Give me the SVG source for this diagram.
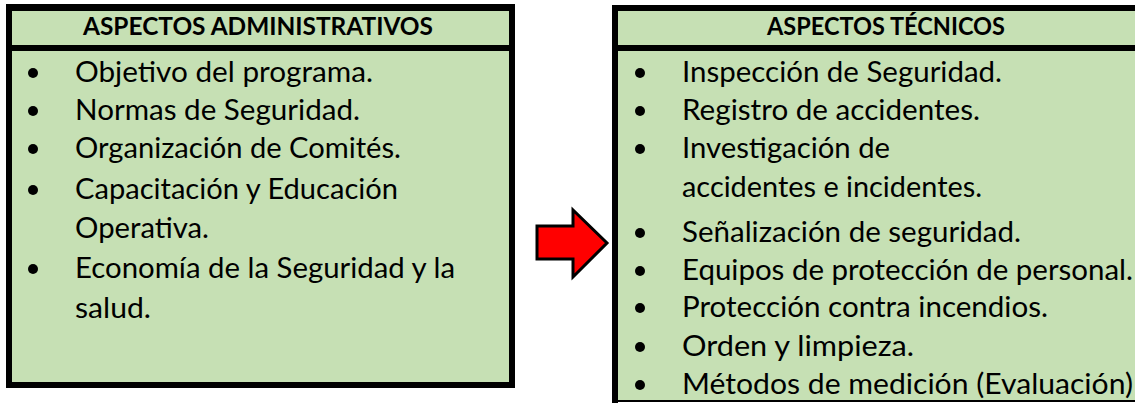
<svg xmlns="http://www.w3.org/2000/svg" width="1135" height="403" viewBox="0 0 1135 403">
<style>
.fill{fill:#c6e0b4}
.blk{fill:#000}
.h{font-family:Lato,"Open Sans",sans-serif;font-weight:bold;font-size:25px;fill:#000}
.t{font-family:Lato,"Open Sans",sans-serif;font-size:28.5px;fill:#000}
.b{fill:#000}
</style>
<rect width="1135" height="403" fill="#fff"/>
<g id="admin">
<rect x="6" y="4" width="509" height="384" class="blk"/>
<rect x="12" y="11" width="497" height="34" class="fill"/>
<rect x="12" y="51" width="497" height="331" class="fill"/>
<text x="83" y="35" class="h" textLength="350" lengthAdjust="spacingAndGlyphs">ASPECTOS ADMINISTRATIVOS</text>
<circle cx="33" cy="73" r="5" class="b"/>
<circle cx="33" cy="111" r="5" class="b"/>
<circle cx="33" cy="149" r="5" class="b"/>
<circle cx="33" cy="190" r="5" class="b"/>
<circle cx="33" cy="269" r="5" class="b"/>
<text x="75" y="82" class="t" textLength="298" lengthAdjust="spacingAndGlyphs">Objetivo del programa.</text>
<text x="75" y="120" class="t" textLength="285" lengthAdjust="spacingAndGlyphs">Normas de Seguridad.</text>
<text x="75" y="158" class="t" textLength="326" lengthAdjust="spacingAndGlyphs">Organización de Comités.</text>
<text x="75" y="199" class="t" textLength="323" lengthAdjust="spacingAndGlyphs">Capacitación y Educación</text>
<text x="75" y="238" class="t" textLength="134" lengthAdjust="spacingAndGlyphs">Operativa.</text>
<text x="75" y="278" class="t" textLength="380" lengthAdjust="spacingAndGlyphs">Economía de la Seguridad y la</text>
<text x="75" y="318" class="t" textLength="76" lengthAdjust="spacingAndGlyphs">salud.</text>
</g>
<g id="connectors">
<path d="M537,226 L573,226 L573,210 L607,243 L573,277 L573,259 L537,259 Z" fill="#ff0000" stroke="#000" stroke-width="3" stroke-linejoin="miter"/>
</g>
<g id="tecnicos">
<rect x="612" y="5" width="523" height="398" class="blk"/>
<rect x="618" y="11" width="517" height="34" class="fill"/>
<rect x="618" y="51" width="517" height="349" class="fill"/>
<rect x="618" y="402" width="517" height="1" fill="#fff"/>
<text x="767" y="35" class="h" textLength="238" lengthAdjust="spacingAndGlyphs">ASPECTOS TÉCNICOS</text>
<circle cx="640" cy="73" r="5" class="b"/>
<circle cx="640" cy="111" r="5" class="b"/>
<circle cx="640" cy="149" r="5" class="b"/>
<circle cx="640" cy="233" r="5" class="b"/>
<circle cx="640" cy="271" r="5" class="b"/>
<circle cx="640" cy="308" r="5" class="b"/>
<circle cx="640" cy="347" r="5" class="b"/>
<circle cx="640" cy="385" r="5" class="b"/>
<text x="682" y="82" class="t" textLength="320" lengthAdjust="spacingAndGlyphs">Inspección de Seguridad.</text>
<text x="682" y="120" class="t" textLength="298" lengthAdjust="spacingAndGlyphs">Registro de accidentes.</text>
<text x="682" y="158" class="t" textLength="208" lengthAdjust="spacingAndGlyphs">Investigación de</text>
<text x="682" y="197" class="t" textLength="300" lengthAdjust="spacingAndGlyphs">accidentes e incidentes.</text>
<text x="682" y="242" class="t" textLength="339" lengthAdjust="spacingAndGlyphs">Señalización de seguridad.</text>
<text x="682" y="280" class="t" textLength="451" lengthAdjust="spacingAndGlyphs">Equipos de protección de personal.</text>
<text x="682" y="317" class="t" textLength="366" lengthAdjust="spacingAndGlyphs">Protección contra incendios.</text>
<text x="682" y="356" class="t" textLength="232" lengthAdjust="spacingAndGlyphs">Orden y limpieza.</text>
<text x="682" y="394" class="t" textLength="451" lengthAdjust="spacingAndGlyphs">Métodos de medición (Evaluación)</text>
</g>
</svg>
